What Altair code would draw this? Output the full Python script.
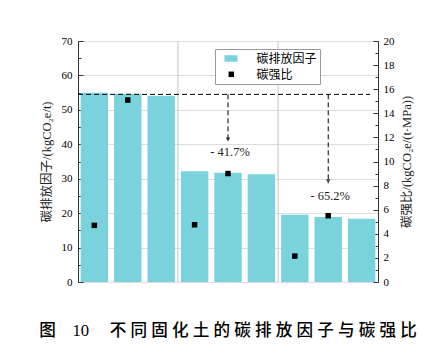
import altair as alt
import pandas as pd

categories = ["S-WG", "SF-WG", "F-WG", "S-SF", "SF-SF", "F-SF", "S-QL", "SF-QL", "F-QL"]
emission = [55.0, 54.7, 54.1, 32.2, 31.7, 31.3, 19.5, 18.9, 18.4]
ratio = [4.7, 15.1, None, 4.75, 9.0, None, 2.15, 5.5, None]
ref_level = 54.5
arrow_cats = ["SF-SF", "SF-QL"]
arrow_end = [40.8, 28.7]
arrow_text = ["- 41.7%", "- 65.2%"]
text_level = [37.8, 25.0]
sep_after = ["F-WG", "F-SF"]
series_names = ["碳排放因子", "碳强比"]
bar_color = "#79D2DC"
caption_head = "图\u200310"
caption_body = "不同固化土的碳排放因子与碳强比"

W, H = 300, 241
FONT = "Liberation Serif, Noto Sans CJK SC"

df = pd.DataFrame({"cat": categories, "emission": emission, "ratio": ratio})
df["s1"] = series_names[0]
df["s2"] = series_names[1]
pts = df.dropna(subset=["ratio"])
arr = pd.DataFrame({"cat": arrow_cats, "end": arrow_end, "top": [ref_level] * 2,
                    "label": arrow_text, "ty": text_level})
seps = pd.DataFrame({"cat": sep_after})

caption = caption_head + "\u2003\u2005" + "\u2005".join(caption_body)

xscale = alt.Scale(domain=categories, paddingInner=0.18, paddingOuter=0.08)
ls = alt.Scale(domain=[0, 70], nice=False)
rs = alt.Scale(domain=[0, 20], nice=False)
color_scale = alt.Scale(domain=series_names, range=[bar_color, "transparent"])

xaxis = alt.Axis(title=None, labelFont=FONT, labelFontSize=11, labelColor="black",
                 domainColor="#333", ticks=False, labelPadding=7, labelAngle=0)

bar_legend = alt.Legend(
    title=None, orient="none", legendX=137, legendY=8, fillColor="white",
    strokeColor="#999", padding=3, rowPadding=3, symbolSize=169,
    symbolType="M-1,-0.5H1V0.5H-1Z", symbolOffset=6.5, labelOffset=19,
    labelFont=FONT, labelFontSize=12, labelColor="black", symbolStrokeWidth=0,
    zindex=1,
)
pt_legend = alt.Legend(
    title=None, orient="none", legendX=150.3, legendY=30.3, padding=0,
    symbolSize=30, symbolType="square", symbolFillColor="black", symbolStrokeWidth=0,
    labelExpr="''", labelFontSize=5, labelOffset=0, zindex=2,
)

bars = alt.Chart(df).mark_bar().encode(
    x=alt.X("cat:N", scale=xscale, sort=categories, axis=xaxis),
    y=alt.Y("emission:Q", scale=ls, axis=alt.Axis(
        orient="left", title="碳排放因子/(kgCO₂e/t)", values=list(range(0, 71, 10)),
        ticks=False, tickSize=0, labelPadding=6, labelFont=FONT, labelFontSize=11,
        labelColor="black", titleFont=FONT, titleFontSize=12.5, titleFontWeight="normal",
        titleColor="#222", titlePadding=8, domainColor="#333")),
    color=alt.Color("s1:N", scale=color_scale, legend=bar_legend),
)

# inward ticks on left axis and bottom axis
lt_major = alt.Chart(df).mark_bar(opacity=0).encode(
    x=alt.X("cat:N", scale=xscale, sort=categories, axis=alt.Axis(
        orient="bottom", labels=False, domain=False, ticks=True, tickSize=5,
        offset=-5, title=None, tickColor="#333")),
    y=alt.Y("emission:Q", scale=ls, axis=alt.Axis(
        orient="left", labels=False, domain=False, ticks=True, tickSize=5, offset=-5,
        values=list(range(0, 71, 10)), title=None, tickColor="#333", grid=False)),
)
lt_minor = alt.Chart(df).mark_bar(opacity=0).encode(
    x=alt.X("cat:N", scale=xscale, sort=categories, axis=None),
    y=alt.Y("emission:Q", scale=ls, axis=alt.Axis(
        orient="left", labels=False, domain=False, ticks=True, tickSize=3, offset=-3,
        values=list(range(5, 70, 10)), title=None, tickColor="#333", grid=False)),
)

seplines = alt.Chart(seps).mark_rule(color="#c4c4c4", strokeWidth=1, xOffset=3).encode(
    x=alt.X("cat:N", scale=xscale, sort=categories, axis=None, bandPosition=1),
)

hline = alt.Chart(arr.head(1)).mark_rule(color="black", strokeDash=[5, 3], strokeWidth=1).encode(
    y=alt.Y("top:Q", scale=ls, axis=None),
    x=alt.value(0), x2=alt.value(W - 8),
)

vlines = alt.Chart(arr).mark_rule(color="black", strokeDash=[5, 3], strokeWidth=1).encode(
    x=alt.X("cat:N", scale=xscale, sort=categories, axis=None),
    y=alt.Y("top:Q", scale=ls, axis=None),
    y2="end:Q",
)

heads = alt.Chart(arr).mark_point(shape="triangle-down", filled=True, color="black",
                                  size=22, yOffset=-2).encode(
    x=alt.X("cat:N", scale=xscale, sort=categories, axis=None),
    y=alt.Y("end:Q", scale=ls, axis=None),
)

texts = alt.Chart(arr).mark_text(font=FONT, fontSize=12.5, color="#222", dx=2).encode(
    x=alt.X("cat:N", scale=xscale, sort=categories, axis=None),
    y=alt.Y("ty:Q", scale=ls, axis=None),
    text="label:N",
)

points = alt.Chart(pts).mark_point(shape="square", filled=True, size=30, opacity=1,
                                   color="black").encode(
    x=alt.X("cat:N", scale=xscale, sort=categories, axis=None),
    y=alt.Y("ratio:Q", scale=rs, axis=alt.Axis(
        orient="right", title="碳强比/(kgCO₂e/(t·MPa))", values=list(range(0, 21, 2)),
        ticks=False, tickSize=0, labelPadding=5, labelFont=FONT, labelFontSize=11,
        labelColor="black", titleFont=FONT, titleFontSize=12.5, titleFontWeight="normal",
        titleColor="#222", titlePadding=19, titleAngle=270, domainColor="#333")),
    shape=alt.Shape("s2:N", scale=alt.Scale(domain=[series_names[1]], range=["square"]),
                    legend=pt_legend),
)

rt_major = alt.Chart(pts).mark_point(opacity=0).encode(
    x=alt.X("cat:N", scale=xscale, sort=categories, axis=None),
    y=alt.Y("ratio:Q", scale=rs, axis=alt.Axis(
        orient="right", labels=False, domain=False, ticks=True, tickSize=5, offset=-5,
        values=list(range(0, 21, 2)), title=None, tickColor="#333", grid=False)),
)
rt_minor = alt.Chart(pts).mark_point(opacity=0).encode(
    x=alt.X("cat:N", scale=xscale, sort=categories, axis=None),
    y=alt.Y("ratio:Q", scale=rs, axis=alt.Axis(
        orient="right", labels=False, domain=False, ticks=True, tickSize=3, offset=-3,
        values=list(range(1, 20, 2)), title=None, tickColor="#333", grid=False)),
)

chart = alt.layer(
    seplines, bars, lt_major, lt_minor, hline, vlines, heads, texts, points, rt_major, rt_minor
).resolve_scale(y="independent").properties(
    width=W, height=H,
    autosize=alt.AutoSizeParams(type="none"),
    padding={"left": 70, "top": 33, "right": 62, "bottom": 75},
    title=alt.TitleParams(caption, orient="bottom",
                          anchor="middle", font=FONT, fontSize=16.6,
                          fontWeight=500, color="black", offset=36),
).configure_view(stroke="#333", strokeWidth=1).configure_axis(grid=False).configure(background="white")

chart.save("out.html", embed_options={"renderer": "svg", "actions": False})
